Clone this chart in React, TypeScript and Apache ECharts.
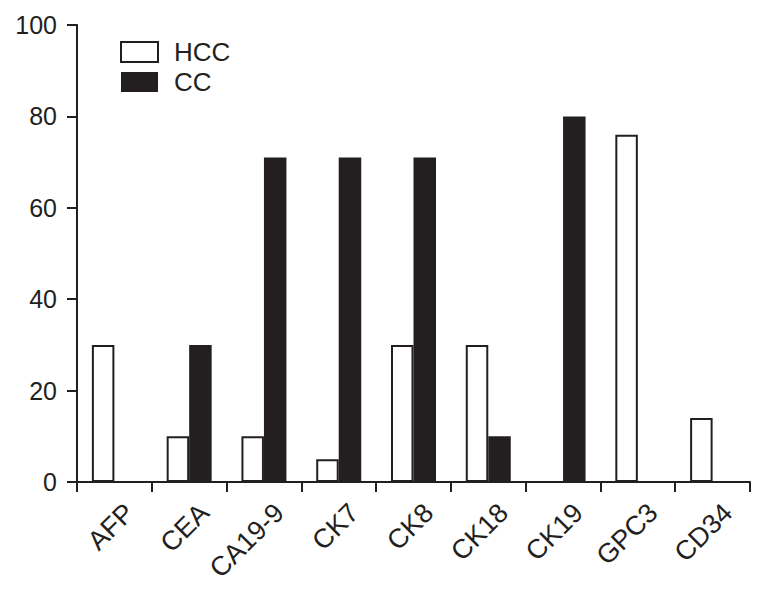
import React, { useEffect, useRef } from "react";
import * as echarts from "echarts";

const categories = ["AFP", "CEA", "CA19-9", "CK7", "CK8", "CK18", "CK19", "GPC3", "CD34"];
const hccValues = [30, 10, 10, 5, 30, 30, 0, 76, 14];
const ccValues = [0, 30, 71, 71, 71, 10, 80, 0, 0];
const yTicks = { min: 0, max: 100, interval: 20 };

const INK = "#231f20";
const FONT = "'Liberation Sans', Arial, Helvetica, sans-serif";

export default function App() {
  const ref = useRef<HTMLDivElement>(null);
  useEffect(() => {
    document.body.style.margin = "0";
    if (!ref.current) return;
    const chart = echarts.init(ref.current, undefined, { renderer: "svg" });
    chart.setOption({
      animation: false,
      backgroundColor: "#ffffff",
      textStyle: { fontFamily: FONT, color: INK },
      grid: { left: 77, right: 16, top: 25, bottom: 108, containLabel: false },
      legend: {
        orient: "vertical",
        left: 115,
        top: 34,
        itemWidth: 37,
        itemHeight: 20,
        itemGap: 4,
        icon: "rect",
        selectedMode: false,
        textStyle: {
          fontSize: 26,
          lineHeight: 26,
          color: INK,
          fontFamily: FONT,
          padding: [0, 0, 0, 11],
        },
        data: [
          { name: "HCC", itemStyle: { color: "#ffffff", borderColor: INK, borderWidth: 2 } },
          { name: "CC", itemStyle: { color: INK, borderColor: INK, borderWidth: 0 } },
        ],
      },
      xAxis: {
        type: "category",
        data: categories,
        boundaryGap: true,
        axisLine: { show: true, lineStyle: { color: INK, width: 2 } },
        axisTick: { show: true, alignWithLabel: false, length: 10, lineStyle: { color: INK, width: 2 } },
        axisLabel: {
          interval: 0,
          rotate: 45,
          margin: 11,
          fontSize: 27,
          color: INK,
          fontFamily: FONT,
          verticalAlign: "top",
          padding: [8, 0, 0, 0],
        },
        splitLine: { show: false },
      },
      yAxis: {
        type: "value",
        min: yTicks.min,
        max: yTicks.max,
        interval: yTicks.interval,
        axisLine: { show: true, lineStyle: { color: INK, width: 2 } },
        axisTick: { show: true, length: 10, lineStyle: { color: INK, width: 2 } },
        axisLabel: { margin: 20, fontSize: 25, color: INK, fontFamily: FONT },
        splitLine: { show: false },
      },
      series: [
        {
          name: "HCC",
          type: "bar",
          data: hccValues,
          barWidth: 22.5,
          barGap: "0%",
          itemStyle: { color: "#ffffff", borderColor: INK, borderWidth: 2 },
        },
        {
          name: "CC",
          type: "bar",
          data: ccValues,
          barWidth: 22.5,
          barGap: "0%",
          itemStyle: { color: INK, borderColor: INK, borderWidth: 0 },
        },
      ],
    });
    return () => chart.dispose();
  }, []);
  return <div ref={ref} style={{ width: 766, height: 590 }} />;
}
